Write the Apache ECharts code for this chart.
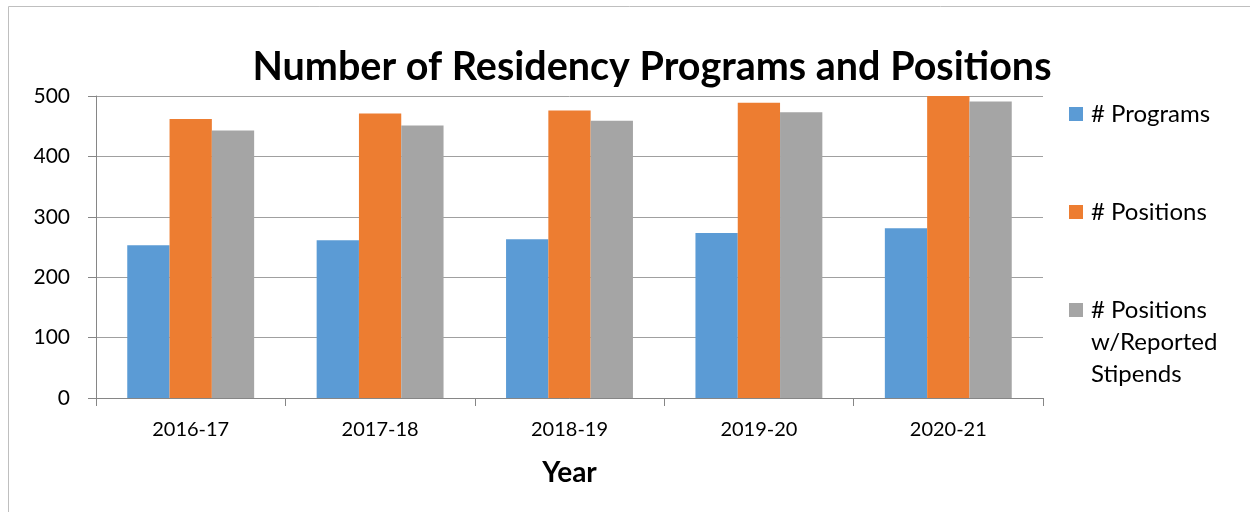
<!DOCTYPE html>
<html>
<head>
    <meta charset="UTF-8">
    <title>Residency Programs</title>
    <script src="https://cdn.jsdelivr.net/npm/echarts@6/dist/echarts.min.js"></script>
</head>
<body style="margin:0">
    <div id="main" style="width:1250px; height:512px;"></div>
    <script>
        var years = ['2016-17', '2017-18', '2018-19', '2019-20', '2020-21'];
        var programs = [253, 261, 263, 273, 281];
        var positions = [462, 471, 476, 489, 500];
        var reported = [443, 451, 459, 473, 491];
        var yTicks = [0, 100, 200, 300, 400, 500];

        var font = 'Lato, "Open Sans", sans-serif';
        var chart = echarts.init(document.getElementById('main'), null, {renderer: 'canvas'});

        var legendText = {fontFamily: font, fontSize: 24, color: '#000', lineHeight: 32, padding: [0, 0, 0, 3]};

        chart.setOption({
            animation: false,
            color: ['#5b9bd5', '#ed7d31', '#a5a5a5'],
            title: {
                text: 'Number of Residency Programs and Positions',
                left: 647,
                textAlign: 'center',
                top: 42,
                textStyle: {fontFamily: font, fontSize: 39.5, fontWeight: 'bold', color: '#000'}
            },
            graphic: [{
                type: 'rect',
                shape: {x: 8.5, y: 6.5, width: 1300, height: 600},
                style: {fill: null, stroke: '#bfbfbf', lineWidth: 1},
                silent: true
            }],
            legend: [
                {data: ['# Programs'], orient: 'vertical', left: 1069, top: 98, padding: 0,
                 itemWidth: 14, itemHeight: 14, itemGap: 0, icon: 'rect', textStyle: legendText},
                {data: ['# Positions'], orient: 'vertical', left: 1069, top: 196, padding: 0,
                 itemWidth: 14, itemHeight: 14, itemGap: 0, icon: 'rect', textStyle: legendText},
                // two blank lines first so the square sits beside the first text line
                {data: ['# Positions w/Reported Stipends'],
                 formatter: function () { return '\n\n# Positions\nw/Reported\nStipends'; },
                 orient: 'vertical', left: 1069, top: 230, padding: 0,
                 itemWidth: 14, itemHeight: 14, itemGap: 0, icon: 'rect', textStyle: legendText}
            ],
            grid: {left: 96, right: 207, top: 96, bottom: 114, containLabel: false},
            xAxis: {
                type: 'category',
                data: years,
                name: 'Year',
                nameLocation: 'middle',
                nameGap: 61,
                nameTextStyle: {fontFamily: font, fontSize: 28, fontWeight: 'bold', color: '#000'},
                axisLine: {lineStyle: {color: '#868686', width: 1}},
                axisTick: {show: true, length: 8, lineStyle: {color: '#868686'}},
                axisLabel: {fontFamily: font, fontSize: 20, color: '#000', margin: 22}
            },
            yAxis: {
                type: 'value',
                min: yTicks[0],
                max: yTicks[yTicks.length - 1],
                interval: 100,
                axisLine: {show: true, lineStyle: {color: '#868686', width: 1}},
                axisTick: {show: true, length: 8, lineStyle: {color: '#868686'}},
                axisLabel: {fontFamily: font, fontSize: 21, color: '#000', margin: 26},
                splitLine: {lineStyle: {color: '#a0a0a0', width: 1}}
            },
            series: [
                {name: '# Programs', type: 'bar', data: programs, barGap: '0%', barCategoryGap: '33%'},
                {name: '# Positions', type: 'bar', data: positions, barGap: '0%', barCategoryGap: '33%'},
                {name: '# Positions w/Reported Stipends', type: 'bar', data: reported, barGap: '0%', barCategoryGap: '33%'}
            ]
        });
    </script>
</body>
</html>
